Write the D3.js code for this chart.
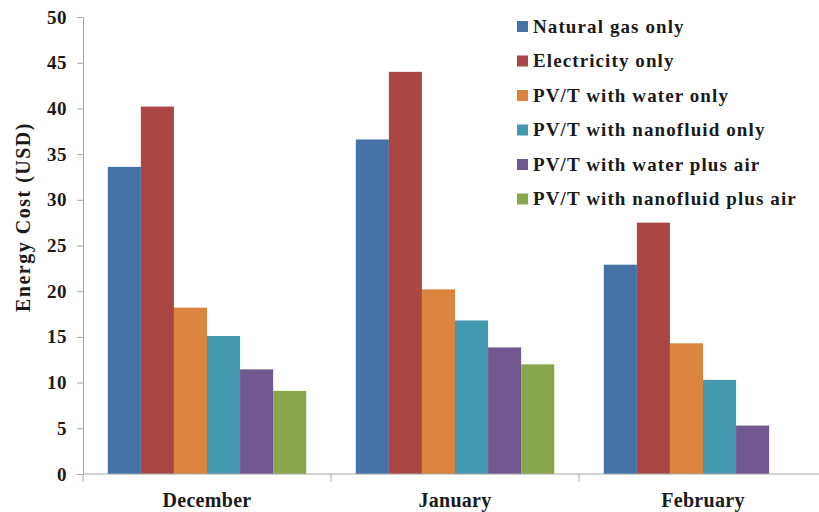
<!DOCTYPE html>
<html>
<head>
<meta charset="utf-8">
<script src="https://cdn.jsdelivr.net/npm/d3@7"></script>
<style>
  body { margin: 0; background: #fff; }
  #chart { width: 819px; height: 512px; }
  text { font-family: "Liberation Serif", "Times New Roman", serif; font-weight: bold; fill: #1a1a1a; }
</style>
</head>
<body>
<div id="chart"></div>
<script>
// Data
const months = ["December", "January", "February"];
const seriesNames = [
    "Natural gas only",
    "Electricity only",
    "PV/T with water only",
    "PV/T with nanofluid only",
    "PV/T with water plus air",
    "PV/T with nanofluid plus air"
];
const naturalGas = [33.6, 36.6, 22.9];
const electricity = [40.2, 44.0, 27.5];
const pvtWater = [18.2, 20.2, 14.3];
const pvtNano = [15.1, 16.8, 10.3];
const pvtWaterAir = [11.45, 13.85, 5.3];
const pvtNanoAir = [9.1, 12.0, null];
const seriesValues = [naturalGas, electricity, pvtWater, pvtNano, pvtWaterAir, pvtNanoAir];
const colors = ["#4572A7", "#AA4643", "#DB843D", "#4198AF", "#71588F", "#89A54E"];
const yTicks = [0, 5, 10, 15, 20, 25, 30, 35, 40, 45, 50];

const width = 819, height = 512;
const axisColor = "#a6a6a6";

const svg = d3.select("#chart")
    .append("svg")
    .attr("width", width)
    .attr("height", height);

// plot area runs a bit past the right edge, like the cropped original
const plotLeft = 83, plotTop = 17, plotBottom = 474;
const plotRight = plotLeft + 3 * 248;

const x0 = d3.scaleBand()
    .domain(months)
    .range([plotLeft, plotRight])
    .paddingInner(0.2)
    .paddingOuter(0.1);

const x1 = d3.scaleBand()
    .domain(seriesNames)
    .range([0, x0.bandwidth()]);

const y = d3.scaleLinear()
    .domain([0, 50])
    .range([plotBottom, plotTop]);

// Bars
const rows = months.map((m, i) => ({
    month: m,
    values: seriesNames.map((s, j) => ({ name: s, value: seriesValues[j][i], color: colors[j] }))
}));

svg.append("g")
    .selectAll("g")
    .data(rows)
    .join("g")
    .attr("transform", d => `translate(${x0(d.month)},0)`)
    .selectAll("rect")
    .data(d => d.values.filter(v => v.value != null))
    .join("rect")
    .attr("x", d => x1(d.name))
    .attr("y", d => y(d.value))
    .attr("width", x1.bandwidth())
    .attr("height", d => y(0) - y(d.value))
    .attr("fill", d => d.color);

// Y axis
const yAxis = svg.append("g")
    .attr("transform", `translate(${plotLeft},0)`)
    .call(d3.axisLeft(y).tickValues(yTicks).tickSize(6).tickPadding(10).tickSizeOuter(0));
yAxis.select(".domain").attr("stroke", axisColor);
yAxis.selectAll(".tick line").attr("stroke", axisColor);
yAxis.selectAll(".tick text")
    .style("font-size", "19px")
    .style("font-family", "'Liberation Serif', serif")
    .style("font-weight", "bold")
    .style("letter-spacing", "0.5px")
    .attr("fill", "#1a1a1a");

// X axis line and category separators
svg.append("line")
    .attr("x1", plotLeft).attr("x2", width)
    .attr("y1", plotBottom).attr("y2", plotBottom)
    .attr("stroke", axisColor);

const boundaries = months.map(m => x0(m) - x0.step() * 0.1).concat([plotRight]);
svg.append("g")
    .selectAll("line")
    .data(boundaries)
    .join("line")
    .attr("x1", d => d).attr("x2", d => d)
    .attr("y1", plotBottom).attr("y2", plotBottom + 8)
    .attr("stroke", axisColor);

svg.append("g")
    .selectAll("text")
    .data(months)
    .join("text")
    .attr("x", d => x0(d) + x0.bandwidth() / 2)
    .attr("y", 507)
    .attr("text-anchor", "middle")
    .style("font-size", "20px")
    .style("letter-spacing", "0.3px")
    .text(d => d);

// Y axis title
svg.append("text")
    .attr("transform", "translate(30,217) rotate(-90)")
    .attr("text-anchor", "middle")
    .style("font-size", "20px")
    .style("letter-spacing", "1.5px")
    .text("Energy Cost (USD)");

// Legend
const legend = svg.append("g")
    .selectAll("g")
    .data(seriesNames)
    .join("g")
    .attr("transform", (d, i) => `translate(517,${26.5 + i * 34.5})`);

legend.append("rect")
    .attr("x", 0)
    .attr("y", -5.5)
    .attr("width", 11)
    .attr("height", 11)
    .attr("fill", (d, i) => colors[i]);

legend.append("text")
    .attr("x", 16)
    .attr("y", 6)
    .style("font-size", "19px")
    .style("letter-spacing", "1.1px")
    .text(d => d);
</script>
</body>
</html>
